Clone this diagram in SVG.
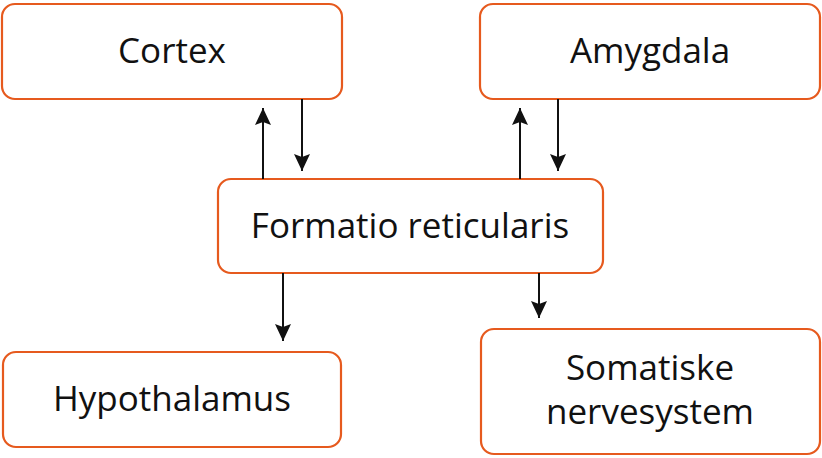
<svg xmlns="http://www.w3.org/2000/svg" width="822" height="458" viewBox="0 0 822 458">
<style>
.box{fill:#fff;stroke:#E65A1E;stroke-width:2.2}
.lbl{font-family:"Open Sans","Liberation Sans",sans-serif;font-size:35px;fill:#111;text-anchor:middle}
.edge{stroke:#111;stroke-width:2;fill:none}
</style>
<defs>
<marker id="ah" markerUnits="userSpaceOnUse" markerWidth="18" markerHeight="20" refX="17" refY="8" orient="auto">
<path d="M0,0 L17,8 L0,16 L3,8 Z" fill="#111"/>
</marker>
</defs>
<rect width="822" height="458" fill="#fff"/>
<g id="cortex"><rect class="box" x="2" y="4" width="340" height="95" rx="13"/><text class="lbl" x="172" y="63">Cortex</text></g>
<g id="amygdala"><rect class="box" x="480" y="4" width="340" height="95" rx="13"/><text class="lbl" x="650" y="63">Amygdala</text></g>
<g id="formatio"><rect class="box" x="218" y="179" width="385" height="94" rx="13"/><text class="lbl" x="410" y="238">Formatio reticularis</text></g>
<g id="hypothalamus"><rect class="box" x="3" y="352" width="338" height="95" rx="13"/><text class="lbl" x="172" y="411">Hypothalamus</text></g>
<g id="somatiske"><rect class="box" x="481" y="329" width="339" height="125" rx="13"/><text class="lbl" x="650" y="380">Somatiske</text><text class="lbl" x="650" y="424">nervesystem</text></g>
<g id="connectors">
<line class="edge" x1="263" y1="179" x2="263" y2="108" marker-end="url(#ah)"/>
<line class="edge" x1="302" y1="99" x2="302" y2="171" marker-end="url(#ah)"/>
<line class="edge" x1="520" y1="179" x2="520" y2="108" marker-end="url(#ah)"/>
<line class="edge" x1="558" y1="99" x2="558" y2="171" marker-end="url(#ah)"/>
<line class="edge" x1="283" y1="273" x2="283" y2="341" marker-end="url(#ah)"/>
<line class="edge" x1="539" y1="273" x2="539" y2="318" marker-end="url(#ah)"/>
</g>
</svg>
